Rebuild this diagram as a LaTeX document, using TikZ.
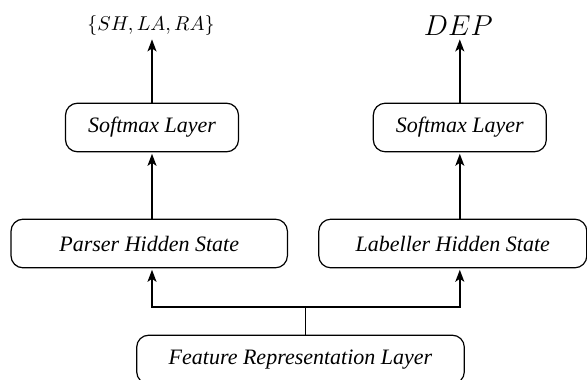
\documentclass[tikz,border=0pt]{standalone}
\usepackage{fontspec}
\setmainfont{Liberation Serif}
\usetikzlibrary{arrows.meta}
\begin{document}
\begin{tikzpicture}[x=0.5pt,y=-0.5pt,
  box/.style={draw, line width=0.6pt, rounded corners=6pt, inner sep=0pt, outer sep=0pt,
    minimum height=24.3pt, font=\fontsize{11}{13}\selectfont\itshape},
  conn/.style={line width=0.8pt},
  arr/.style={conn, -{Stealth[length=6pt,width=4.5pt,inset=1.5pt]}, shorten >=1pt},
  lab/.style={inner sep=0.5pt, anchor=base}]
\useasboundingbox (0,0) rectangle (587,379);
\node[box, minimum width=86.5pt] (sm1) at (152,127.5) {Softmax Layer};
\node[box, minimum width=86.5pt] (sm2) at (459.8,127.5) {Softmax Layer};
\node[box, minimum width=138.2pt] (ph) at (149.2,243.5) {Parser Hidden State};
\node[box, minimum width=134pt] (lh) at (452.8,243.5) {Labeller Hidden State};
\node[box, minimum width=163.8pt] (fr) at (300.5,359.5) {Feature Representation Layer};
\node[lab] (l1) at (151,31) {$\{SH,LA,RA\}$};
\node[lab, font=\fontsize{15}{18}\selectfont] (l2) at (458.3,36) {$DEP$};
\coordinate (j) at (305.3,306.7);
\draw[conn] (fr.north -| j) -- (j);
\draw[arr] (j) -| (ph.south -| sm1.south);
\draw[arr] (j) -| (lh.south -| sm2.south);
\draw[arr] (ph.north -| sm1.south) -- (sm1.south);
\draw[arr] (lh.north -| sm2.south) -- (sm2.south);
\draw[arr] (sm1.north) -- (sm1.north |- l1.south);
\draw[arr] (sm2.north) -- (sm2.north |- l2.south);
\end{tikzpicture}
\end{document}
